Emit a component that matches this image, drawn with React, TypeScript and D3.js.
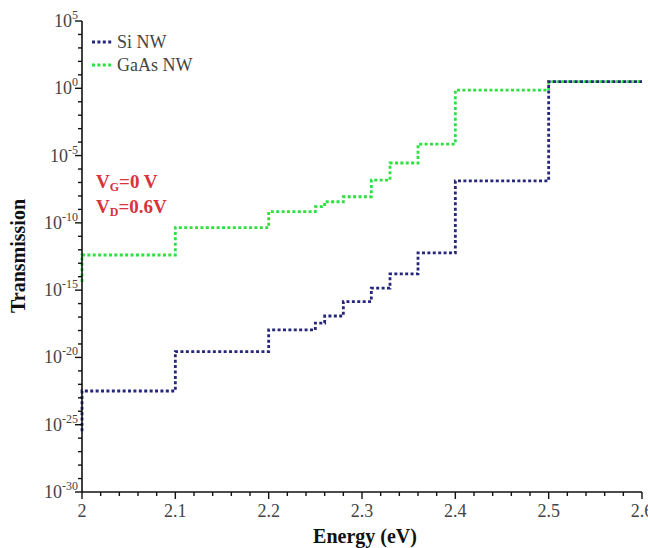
import React from "react";
import * as d3 from "d3";

const stepEdges = [2.0, 2.1, 2.2, 2.25, 2.26, 2.28, 2.31, 2.33, 2.36, 2.4, 2.5, 2.6];
const siStart = 3.2e-26;
const siLevels = [3.2e-23, 2.7e-20, 1.1e-18, 3.6e-18, 1.2e-17, 1.4e-16, 1.4e-15, 1.6e-14, 5.8e-13, 1.3e-7, 3.1];
const gaasStart = 4e-15;
const gaasLevels = [4.1e-13, 4.4e-11, 6.8e-10, 1.6e-9, 3.7e-9, 8.7e-9, 1.5e-7, 2.8e-6, 7.2e-5, 0.74, 3.1];

const xTicks = [2.0, 2.1, 2.2, 2.3, 2.4, 2.5, 2.6];
const xTickLabels = ["2", "2.1", "2.2", "2.3", "2.4", "2.5", "2.6"];
const yTickExponents = [5, 0, -5, -10, -15, -20, -25, -30];
const seriesNames = ["Si NW", "GaAs NW"];
const seriesColors = ["#26267a", "#2ee040"];

const W = 648;
const H = 548;
const left = 82;
const right = 642;
const top = 21;
const bottom = 492;

const SERIF = "'Liberation Serif', 'DejaVu Serif', serif";

export default function App() {
  const x = d3.scaleLinear().domain([2.0, 2.6]).range([left, right]);
  const y = d3.scaleLog().domain([1e-30, 1e5]).range([bottom, top]);

  const makePts = (start: number, levels: number[]) => {
    const pts: [number, number][] = [[stepEdges[0], start]];
    levels.forEach((v, i) => pts.push([stepEdges[i], v]));
    pts.push([stepEdges[stepEdges.length - 1], levels[levels.length - 1]]);
    return pts;
  };
  const line = d3
    .line<[number, number]>()
    .x((d) => x(d[0]))
    .y((d) => y(d[1]))
    .curve(d3.curveStepAfter);

  const siPath = line(makePts(siStart, siLevels)) || "";
  const gaPath = line(makePts(gaasStart, gaasLevels)) || "";

  const minorY: number[] = [];
  for (let e = -30; e <= 5; e++) minorY.push(e);
  const minorX: number[] = [];
  for (let i = 0; i <= 30; i++) minorX.push(2 + i * 0.02);

  const tickColor = "#444";
  const ts = { fontFamily: SERIF };

  return (
    <svg
      width={W}
      height={H}
      style={{ position: "absolute", left: 0, top: 0, background: "#fff", fontFamily: SERIF }}
    >
      <rect x={0} y={0} width={W} height={H} fill="#fff" />
      <path d={gaPath} fill="none" stroke={seriesColors[1]} strokeWidth={2.8} strokeDasharray="3,2.4" />
      <path d={siPath} fill="none" stroke={seriesColors[0]} strokeWidth={2.8} strokeDasharray="3,2.4" />

      <line x1={left} x2={left} y1={top} y2={bottom} stroke="#111" strokeWidth={1.6} />
      {minorY.map((e) => {
        const major = e % 5 === 0;
        return (
          <line
            key={"ym" + e}
            x1={left}
            x2={left - (major ? 7 : 4)}
            y1={y(Math.pow(10, e))}
            y2={y(Math.pow(10, e))}
            stroke="#111"
            strokeWidth={1.4}
          />
        );
      })}
      {yTickExponents.map((e) => (
        <text
          key={"yl" + e}
          x={left - 4}
          y={y(Math.pow(10, e)) + 6}
          textAnchor="end"
          fontSize={18}
          fill={tickColor}
          style={ts}
        >
          10
          <tspan fontSize={12} dy={-8}>
            {e}
          </tspan>
        </text>
      ))}

      <line x1={left} x2={right} y1={bottom} y2={bottom} stroke="#111" strokeWidth={1.6} />
      {minorX.map((v, i) => {
        const major = i % 5 === 0;
        return (
          <line
            key={"xm" + i}
            x1={x(v)}
            x2={x(v)}
            y1={bottom}
            y2={bottom + (major ? 7 : 4)}
            stroke="#111"
            strokeWidth={1.4}
          />
        );
      })}
      {xTicks.map((v, i) => (
        <text key={"xl" + i} x={x(v)} y={bottom + 25} textAnchor="middle" fontSize={18} fill={tickColor} style={ts}>
          {xTickLabels[i]}
        </text>
      ))}

      <text x={365} y={543} textAnchor="middle" fontSize={20} fontWeight="bold" fill="#111" style={ts}>
        Energy (eV)
      </text>
      <text
        transform={`translate(25,256) rotate(-90)`}
        textAnchor="middle"
        fontSize={20}
        fontWeight="bold"
        fill="#111"
        style={ts}
      >
        Transmission
      </text>

      {seriesNames.map((n, i) => (
        <g key={"lg" + i}>
          <line
            x1={92}
            x2={112}
            y1={42 + i * 23}
            y2={42 + i * 23}
            stroke={seriesColors[i]}
            strokeWidth={2.8}
            strokeDasharray="3,2.4"
          />
          <text x={117} y={48 + i * 23} fontSize={18} fill={tickColor} style={ts}>
            {n}
          </text>
        </g>
      ))}

      <text x={96} y={188} fontSize={19} fontWeight="bold" fill="#d8323c" style={ts}>
        V<tspan fontSize={12} dy={3}>G</tspan>
        <tspan dy={-3}>=0 V</tspan>
      </text>
      <text x={96} y={213} fontSize={19} fontWeight="bold" fill="#d8323c" style={ts}>
        V<tspan fontSize={12} dy={3}>D</tspan>
        <tspan dy={-3}>=0.6V</tspan>
      </text>
    </svg>
  );
}
